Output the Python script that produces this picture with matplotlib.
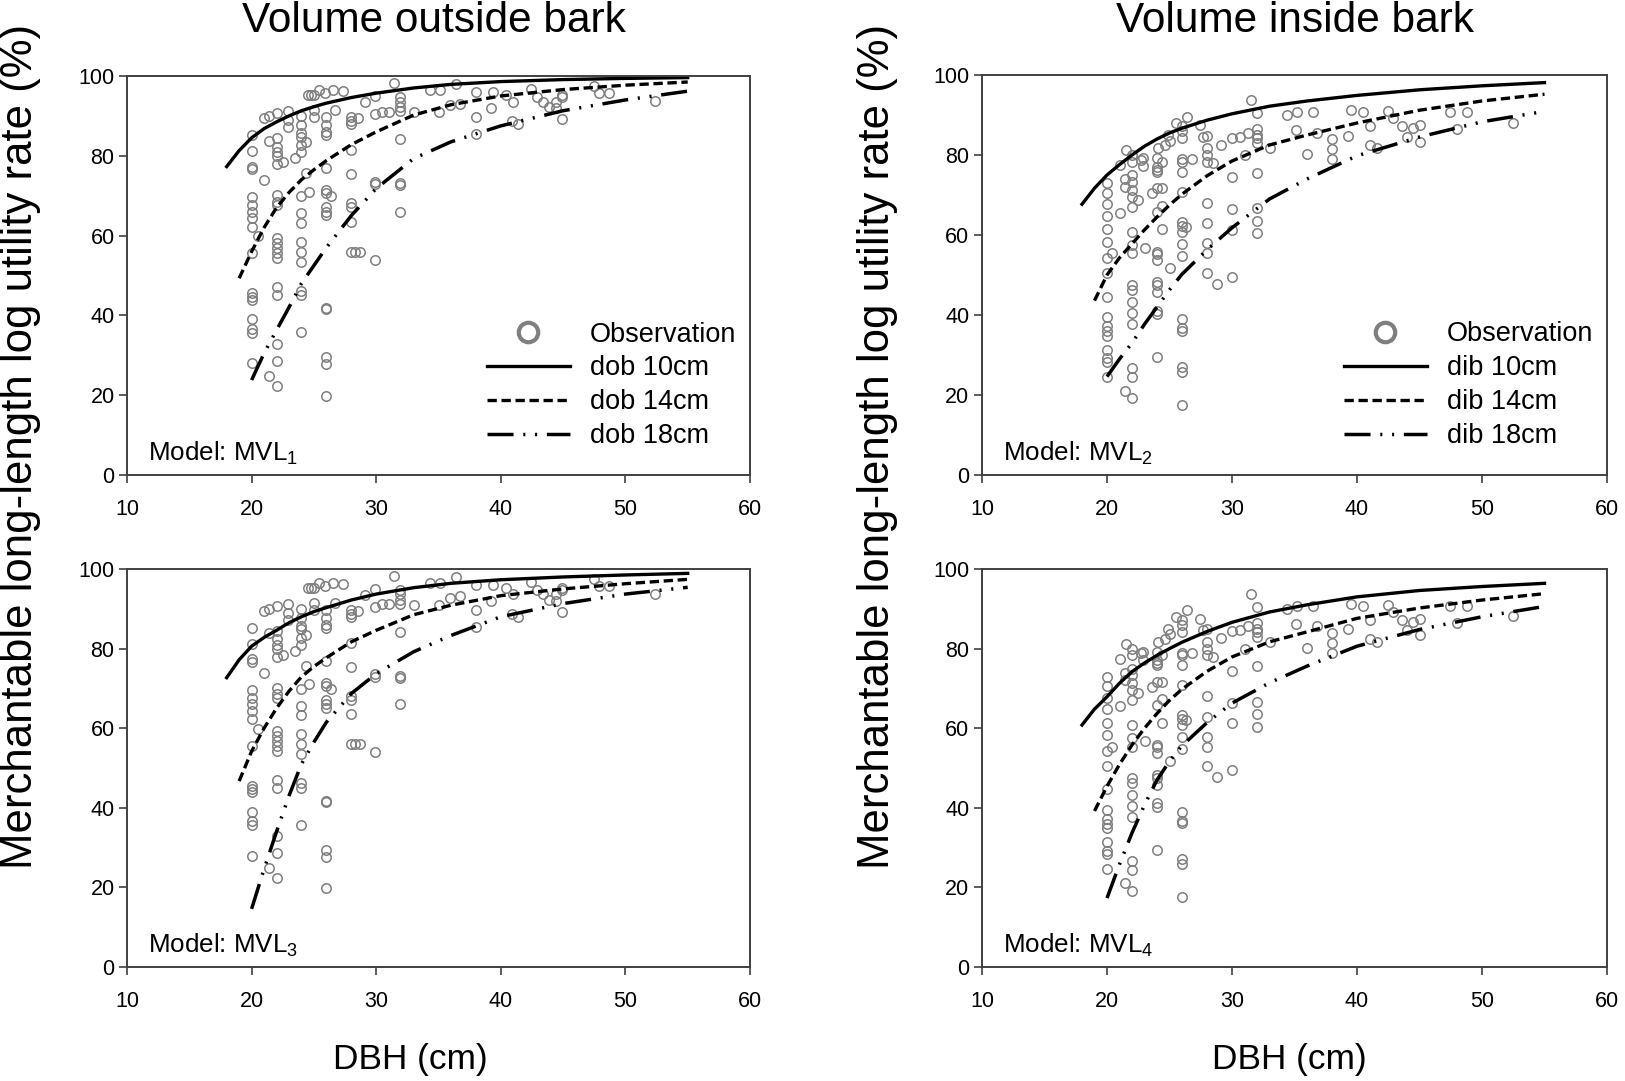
import matplotlib
matplotlib.use("Agg")
import matplotlib.pyplot as plt
from matplotlib.lines import Line2D
import numpy as np

plt.rcParams['font.family'] = ['Liberation Sans', 'DejaVu Sans']
plt.rcParams['mathtext.fontset'] = 'custom'
plt.rcParams['mathtext.rm'] = 'Liberation Sans'
plt.rcParams['mathtext.it'] = 'Liberation Sans'

# observations, outside bark (DBH cm, rate %)
ob_dbh = [20, 20, 20, 20, 20, 20, 20, 20, 20, 20, 20, 20, 20, 20, 20, 20, 20, 20.5,
          21, 21, 21.4, 21.4, 21.4,
          22, 22, 22, 22, 22, 22, 22, 22, 22, 22, 22, 22, 22, 22, 22, 22, 22, 22, 22, 22.5,
          22.9, 22.9, 22.9, 23.5,
          24, 24, 24, 24, 24, 24, 24, 24, 24, 24, 24, 24, 24, 24, 24, 24.4, 24.4, 24.6,
          24.5, 24.8, 25.0, 25.0, 25.0, 25.4, 25.9,
          26, 26, 26, 26, 26, 26, 26, 26, 26, 26, 26, 26, 26, 26, 26, 26.4, 26.5, 26.7, 27.3,
          28, 28, 28, 28, 28, 28, 28, 28, 28, 28.5, 28.3, 28.7,
          29.1, 29.9, 29.9, 29.9, 29.9, 29.9, 30.5, 31.0, 31.4,
          31.9, 31.9, 31.9, 31.9, 31.9, 31.9, 31.9, 31.9, 33.0,
          34.3, 35.1, 35.0, 35.9, 36.4, 36.7, 38.0, 38.0, 38.0, 39.2, 39.4, 40.4, 41.0, 40.9, 41.4,
          42.4, 42.9, 43.4, 43.9, 44.4, 44.4, 44.9, 44.9, 44.9, 47.5, 47.9, 48.7, 52.4]
ob_rate = [85.2, 81.2, 77.3, 76.6, 69.7, 67.7, 66.0, 64.3, 62.2, 55.6, 45.5, 44.7, 43.9, 39.0, 36.6, 35.7, 28.0, 59.9,
           73.9, 89.4, 90.0, 83.8, 24.9,
           90.8, 84.4, 82.3, 81.0, 79.9, 77.9, 70.2, 68.5, 67.7, 59.3, 58.1, 56.8, 55.6, 54.3, 47.0, 45.1, 32.8, 28.6, 22.3, 78.5,
           91.3, 89.0, 87.1, 79.4,
           90.0, 87.7, 85.6, 84.8, 82.7, 81.0, 69.9, 65.6, 63.2, 58.5, 56.0, 53.5, 46.2, 45.1, 35.8, 83.5, 75.6, 71.0,
           95.2, 95.2, 95.2, 89.8, 91.5, 96.5, 95.7,
           89.8, 87.7, 86.0, 85.2, 76.9, 71.4, 70.6, 67.2, 66.0, 65.2, 41.8, 41.5, 29.5, 27.7, 19.8, 69.8, 96.5, 91.5, 96.3,
           89.8, 88.8, 88.0, 81.5, 75.4, 68.1, 67.2, 63.5, 56.0, 89.4, 56.0, 56.0,
           93.4, 90.5, 95.0, 73.5, 72.9, 53.9, 91.1, 91.1, 98.2,
           93.6, 92.3, 91.3, 94.8, 84.1, 73.1, 72.7, 66.0, 90.9,
           96.5, 96.5, 90.9, 92.7, 97.9, 93.1, 96.1, 89.6, 85.5, 91.9, 96.1, 95.2, 93.6, 88.6, 87.9,
           96.7, 94.7, 93.6, 92.2, 92.0, 93.6, 95.2, 94.7, 89.1, 97.6, 95.7, 95.7, 93.8]

# observations, inside bark
ib_dbh = [20, 20, 20, 20, 20, 20, 20, 20, 20, 20, 20, 20, 20, 20, 20, 20, 20, 20.4,
          21.0, 21.0, 21.4, 21.4, 21.4, 21.5,
          22, 22, 22, 22, 22, 22, 22, 22, 22, 22, 22, 22, 22, 22, 22, 22, 22, 22,
          22.5, 22.7, 22.9, 22.9, 23.0, 23.6,
          24, 24, 24, 24, 24, 24, 24, 24, 24, 24, 24, 24, 24, 24, 24,
          24.4, 24.4, 24.4, 24.4, 24.1, 24.6, 24.9, 25.0, 25.0, 25.5,
          26, 26, 26, 26, 26, 26, 26, 26, 26, 26, 26, 26, 26, 26, 26, 26, 26, 26,
          26.4, 26.3, 26.8, 27.4, 27.7,
          28, 28, 28, 28, 28, 28, 28, 28, 28, 28.5, 28.8, 29.1,
          30, 30, 30, 30, 30, 30.6, 31.0, 31.3, 31.5,
          32, 32, 32, 32, 32, 32, 32, 32, 32, 33.0,
          34.4, 35.1, 35.2, 36.0, 36.5, 36.8, 38.0, 38.0, 38.0, 39.3, 39.5, 40.5, 41.0, 41.0, 41.6,
          42.5, 42.9, 43.6, 44.0, 44.5, 45.0, 45.0, 47.4, 48.0, 48.8, 52.5]
ib_rate = [72.9, 70.6, 67.7, 64.8, 61.4, 58.2, 54.2, 50.4, 44.6, 39.4, 37.3, 36.0, 34.8, 31.3, 29.2, 28.3, 24.6, 55.4,
           65.6, 77.5, 73.9, 72.1, 21.1, 81.2,
           80.0, 78.3, 75.0, 73.3, 71.3, 69.6, 67.1, 60.8, 57.5, 55.4, 47.5, 46.3, 43.2, 40.4, 37.8, 26.7, 24.4, 19.2,
           68.8, 78.8, 79.2, 77.2, 56.7, 70.4,
           79.2, 77.1, 76.3, 75.8, 71.7, 65.8, 55.8, 55.3, 53.8, 48.2, 47.5, 45.8, 41.1, 40.3, 29.4,
           78.3, 71.7, 67.3, 61.4, 81.7, 82.5, 85.0, 83.6, 51.7, 87.9,
           87.2, 86.0, 84.2, 78.9, 78.3, 75.8, 70.8, 63.2, 62.3, 60.7, 57.8, 54.8, 38.9, 36.7, 36.1, 27.1, 25.8, 17.5,
           89.6, 62.1, 78.9, 87.5, 84.6,
           84.8, 81.7, 80.0, 78.3, 68.0, 62.9, 57.9, 55.4, 50.4, 77.9, 47.8, 82.6,
           84.3, 74.4, 66.4, 61.3, 49.4, 84.6, 80.0, 85.6, 93.8,
           90.4, 86.4, 85.0, 84.2, 82.9, 75.6, 66.7, 63.6, 60.4, 81.7,
           90.0, 86.3, 90.7, 80.2, 90.7, 85.6, 84.0, 81.4, 78.9, 84.8, 91.3, 90.8, 87.3, 82.5, 81.7,
           90.9, 89.2, 87.3, 84.6, 86.7, 87.5, 83.3, 90.7, 86.5, 90.8, 88.1]

# model curves
c_dbh = [18, 19, 20, 21, 22, 23, 24, 25, 26, 28, 30, 33, 36, 40, 45, 50, 55]
mvl1_10 = [77.3, 81.3, 84.5, 86.8, 88.5, 90.0, 91.3, 92.3, 93.2, 94.6, 95.7, 97.0, 97.9, 98.6, 99.1, 99.4, 99.6]
mvl1_14 = [None, 49.3, 56.0, 62.0, 67.0, 70.8, 74.0, 76.5, 78.8, 82.8, 86.0, 90.2, 92.8, 95.0, 96.6, 97.7, 98.5]
mvl1_18 = [None, None, 23.8, 30.5, 36.3, 42.0, 48.0, 52.5, 57.0, 65.0, 71.8, 79.3, 83.5, 87.5, 91.3, 94.0, 96.2]
mvl2_10 = [67.7, 71.7, 75.0, 77.6, 80.0, 82.2, 84.0, 85.5, 86.7, 88.7, 90.3, 92.2, 93.5, 94.9, 96.3, 97.3, 98.1]
mvl2_14 = [None, 43.6, 50.0, 54.3, 57.8, 61.3, 64.5, 67.5, 70.2, 74.8, 78.5, 82.5, 85.0, 88.0, 91.2, 93.5, 95.2]
mvl2_18 = [None, None, 24.6, 29.0, 33.0, 37.7, 42.0, 46.3, 50.2, 56.3, 61.8, 69.0, 74.0, 79.8, 84.5, 88.3, 90.9]
mvl3_10 = [72.7, 77.2, 80.6, 82.8, 84.6, 86.5, 88.0, 89.3, 90.3, 92.2, 93.7, 95.3, 96.4, 97.3, 98.0, 98.5, 98.9]
mvl3_14 = [None, 46.7, 54.2, 60.0, 65.0, 69.3, 72.9, 75.5, 77.7, 81.7, 84.6, 88.5, 90.9, 93.3, 95.0, 96.3, 97.4]
mvl3_18 = [None, None, 14.6, 24.6, 34.0, 43.0, 51.0, 56.5, 61.5, 68.7, 73.7, 79.2, 83.3, 88.0, 91.3, 93.7, 95.4]
mvl4_10 = [60.8, 64.8, 67.9, 71.3, 74.2, 76.4, 78.3, 80.0, 81.6, 84.3, 86.6, 89.2, 91.0, 93.0, 94.6, 95.6, 96.4]
mvl4_14 = [None, 39.2, 45.4, 50.9, 55.8, 60.0, 63.7, 67.0, 69.8, 74.3, 77.9, 81.7, 84.2, 87.6, 90.2, 92.2, 93.8]
mvl4_18 = [None, None, 17.3, 25.8, 33.7, 40.7, 47.0, 51.7, 55.6, 61.4, 66.3, 71.4, 75.6, 80.6, 84.8, 88.0, 90.6]

dash14 = (0, (2.8, 1.4))
dash18 = (0, (7.5, 2.8, 0.6, 2.8, 0.6, 2.8))
gray = '#7f7f7f'
spine_c = '#404040'

W, H = 1625, 1081
fig = plt.figure(figsize=(W / 100, H / 100), dpi=100)


def px_axes(x0, x1, ytop, ybot):
    return fig.add_axes([x0 / W, 1 - ybot / H, (x1 - x0) / W, (ybot - ytop) / H])


panels = [
    (px_axes(127, 750, 76, 475), ob_dbh, ob_rate, mvl1_10, mvl1_14, mvl1_18, '1', 'dob'),
    (px_axes(982, 1607, 75, 475), ib_dbh, ib_rate, mvl2_10, mvl2_14, mvl2_18, '2', 'dib'),
    (px_axes(127, 750, 569, 967), ob_dbh, ob_rate, mvl3_10, mvl3_14, mvl3_18, '3', None),
    (px_axes(982, 1607, 569, 967), ib_dbh, ib_rate, mvl4_10, mvl4_14, mvl4_18, '4', None),
]

for ax, xd, yd, c10, c14, c18, num, leg in panels:
    ax.plot(xd, yd, linestyle='none', marker='o', ms=6.8, mfc='none', mec=gray, mew=1.1)
    x = np.array(c_dbh, dtype=float)
    for vals, ls, lw in [(c10, '-', 2.4), (c14, dash14, 2.4), (c18, dash18, 2.5)]:
        v = np.array([np.nan if q is None else q for q in vals])
        ax.plot(x, v, color='black', linestyle=ls, lw=lw, dash_capstyle='butt')
    ax.set_xlim(10, 60)
    ax.set_ylim(0, 100)
    ax.set_xticks([10, 20, 30, 40, 50, 60])
    ax.set_yticks([0, 20, 40, 60, 80, 100])
    ax.tick_params(labelsize=15.5, length=6, width=1.2, color=spine_c)
    ax.tick_params(axis='x', pad=11)
    ax.tick_params(axis='y', pad=3)
    for s in ax.spines.values():
        s.set_color(spine_c)
        s.set_linewidth(1.4)
    ax.text(0.034, 0.02, 'Model: MVL$_{%s}$' % num, transform=ax.transAxes,
            fontsize=18.7, va='bottom', ha='left')
    if leg:
        handles = [
            Line2D([], [], linestyle='none', marker='o', ms=14, mfc='none', mec=gray, mew=3.0),
            Line2D([], [], color='black', lw=2.4),
            Line2D([], [], color='black', lw=2.4, linestyle=dash14),
            Line2D([], [], color='black', lw=2.5, linestyle=dash18),
        ]
        labels = ['Observation', leg + ' 10cm', leg + ' 14cm', leg + ' 18cm']
        ax.legend(handles, labels, loc='lower right', bbox_to_anchor=(0.978, 0.065),
                  frameon=False, fontsize=19.5, handlelength=3.05, handletextpad=0.75,
                  labelspacing=0.29, borderpad=0, borderaxespad=0)

fig.text(434 / W, 1 - 21 / H, 'Volume outside bark', fontsize=30.5, ha='center', va='center')
fig.text(1295 / W, 1 - 21 / H, 'Volume inside bark', fontsize=30.5, ha='center', va='center')
fig.text(410 / W, 1 - 1059 / H, 'DBH (cm)', fontsize=25.4, ha='center', va='center')
fig.text(1289 / W, 1 - 1059 / H, 'DBH (cm)', fontsize=25.4, ha='center', va='center')
ylab = 'Merchantable long-length log utility rate (%)'
fig.text(21 / W, 1 - 446 / H, ylab, fontsize=31.5, rotation=90, ha='center', va='center')
fig.text(878 / W, 1 - 446 / H, ylab, fontsize=31.5, rotation=90, ha='center', va='center')

fig.savefig('out.png', dpi=100)
